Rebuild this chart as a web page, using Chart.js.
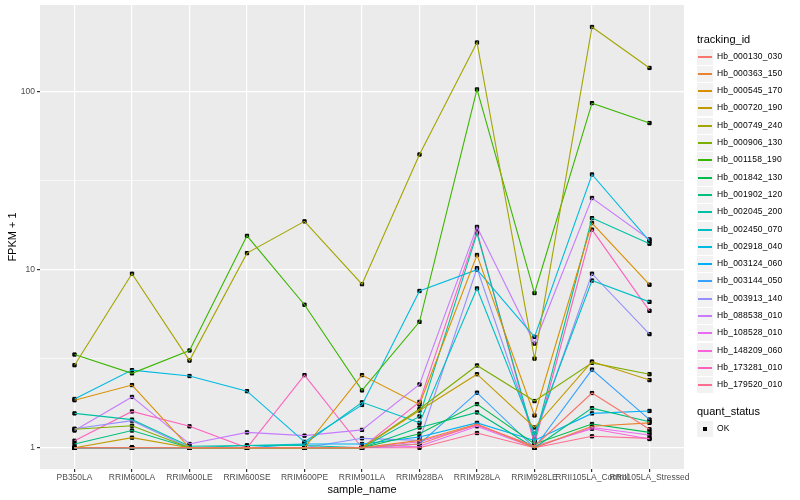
<!DOCTYPE html>
<html>
<head>
<meta charset="utf-8">
<script src="https://cdn.jsdelivr.net/npm/chart.js@4"></script>
<style>
  body { margin: 0; background: #fff; font-family: "Liberation Sans", Arial, sans-serif; }
  #wrap { position: relative; width: 800px; height: 500px; }
  #legend { position: absolute; left: 697px; top: 0; width: 103px; color: #000; }
  .ltitle { position: absolute; left: 0; font-size: 11px; white-space: nowrap; }
  .lrow { position: absolute; left: 0; height: 16px; }
  .lkey { position: absolute; left: 0; top: 0; width: 16px; height: 16px; background: #F2F2F2; }
  .lkey i { position: absolute; left: 1px; right: 1px; top: 7px; height: 1.6px; }
  .lkey b { position: absolute; left: 6px; top: 6px; width: 4px; height: 4px; background: #000; }
  .ltext { position: absolute; left: 20px; top: 2px; font-size: 8.5px; white-space: nowrap; letter-spacing: 0.2px; }
</style>
</head>
<body>
<div id="wrap">
  <canvas id="chart" width="800" height="500"></canvas>
  <div id="legend"></div>
</div>
<script>
// categories on the x axis
const categories = ['PB350LA', 'RRIM600LA', 'RRIM600LE', 'RRIM600SE', 'RRIM600PE', 'RRIM901LA',
                    'RRIM928BA', 'RRIM928LA', 'RRIM928LE', 'RRII105LA_Control', 'RRII105LA_Stressed'];

// FPKM + 1 per tracking id
const hb000130_030 = [1.0, 1.0, 1.0, 1.0, 1.0, 1.0, 1.05, 1.35, 1.02, 2.03, 1.27];
const hb000363_150 = [1.0, 1.0, 1.0, 1.0, 1.0, 1.0, 1.1, 1.36, 1.0, 1.32, 1.38];
const hb000545_170 = [1.85, 2.25, 1.0, 1.0, 1.0, 2.56, 1.75, 12.1, 1.52, 18.3, 8.24];
const hb000720_190 = [1.0, 1.14, 1.0, 1.0, 1.0, 1.0, 1.62, 2.59, 1.3, 3.05, 2.4];
const hb000749_240 = [2.91, 9.5, 3.09, 12.4, 18.7, 8.3, 44.4, 189, 3.17, 231, 136];
const hb000906_130 = [1.27, 1.33, 1.0, 1.0, 1.0, 1.0, 1.65, 2.9, 1.83, 3.0, 2.59];
const hb001158_190 = [3.34, 2.62, 3.52, 15.5, 6.36, 2.1, 5.1, 103, 7.4, 86.3, 66.7];
const hb001842_130 = [1.0, 1.0, 1.0, 1.0, 1.0, 1.0, 1.2, 1.76, 1.05, 1.36, 1.22];
const hb001902_120 = [1.05, 1.25, 1.0, 1.0, 1.0, 1.0, 1.3, 1.58, 1.0, 1.67, 1.4];
const hb002045_200 = [1.56, 1.44, 1.02, 1.03, 1.03, 1.0, 1.5, 16.0, 1.1, 19.5, 14.0];
const hb002450_070 = [1.0, 1.0, 1.0, 1.03, 1.05, 1.8, 1.38, 7.85, 1.2, 8.7, 6.6];
const hb002918_040 = [1.88, 2.73, 2.53, 2.08, 1.08, 1.74, 7.6, 10.0, 4.2, 34.3, 14.5];
const hb003124_060 = [1.0, 1.0, 1.0, 1.0, 1.05, 1.05, 1.15, 1.38, 1.1, 1.56, 1.61];
const hb003144_050 = [1.0, 1.0, 1.0, 1.0, 1.0, 1.0, 1.05, 2.04, 1.0, 2.75, 1.44];
const hb003913_140 = [1.28, 1.42, 1.0, 1.0, 1.0, 1.13, 1.1, 10.2, 1.15, 9.5, 4.35];
const hb088538_010 = [1.25, 1.93, 1.05, 1.22, 1.17, 1.26, 2.27, 17.4, 3.85, 25.3, 14.8];
const hb108528_010 = [1.0, 1.0, 1.0, 1.0, 1.0, 1.0, 1.02, 1.32, 1.0, 1.3, 1.18];
const hb148209_060 = [1.0, 1.0, 1.0, 1.0, 1.0, 1.0, 1.08, 1.34, 1.02, 1.28, 1.12];
const hb173281_010 = [1.095, 1.6, 1.32, 1.0, 2.56, 1.0, 1.81, 16.5, 1.05, 16.8, 5.88];
const hb179520_010 = [1.0, 1.0, 1.0, 1.0, 1.0, 1.0, 1.0, 1.21, 1.0, 1.16, 1.13];

const trackingIds = ['Hb_000130_030', 'Hb_000363_150', 'Hb_000545_170', 'Hb_000720_190', 'Hb_000749_240',
                     'Hb_000906_130', 'Hb_001158_190', 'Hb_001842_130', 'Hb_001902_120', 'Hb_002045_200',
                     'Hb_002450_070', 'Hb_002918_040', 'Hb_003124_060', 'Hb_003144_050', 'Hb_003913_140',
                     'Hb_088538_010', 'Hb_108528_010', 'Hb_148209_060', 'Hb_173281_010', 'Hb_179520_010'];
const seriesValues = [hb000130_030, hb000363_150, hb000545_170, hb000720_190, hb000749_240,
                      hb000906_130, hb001158_190, hb001842_130, hb001902_120, hb002045_200,
                      hb002450_070, hb002918_040, hb003124_060, hb003144_050, hb003913_140,
                      hb088538_010, hb108528_010, hb148209_060, hb173281_010, hb179520_010];

const yTicks = [1, 10, 100];
const yMinor = [Math.sqrt(10), Math.sqrt(1000)];

// ggplot default hue palette for 20 levels
const palette = ['#F8766D', '#EA8331', '#D89000', '#C09B00', '#A3A500', '#7CAE00', '#39B600', '#00BB4E',
                 '#00BF7D', '#00C1A3', '#00BFC4', '#00BAE0', '#00B0F6', '#35A2FF', '#9590FF', '#C77CFF',
                 '#E76BF3', '#FA62DB', '#FF62BC', '#FF6C91'];

const lineSets = trackingIds.map((id, k) => ({
  label: id,
  data: seriesValues[k].map((v, i) => ({ x: i, y: v })),
  borderColor: palette[k],
  backgroundColor: palette[k],
  borderWidth: 1.1,
  pointRadius: 0,
  fill: false,
  tension: 0
}));

const pointSet = {
  label: 'OK',
  data: seriesValues.flatMap(vals => vals.map((v, i) => ({ x: i, y: v }))),
  showLine: false,
  pointStyle: 'rect',
  pointRadius: 2.3,
  pointBackgroundColor: '#000',
  pointBorderColor: '#000',
  pointBorderWidth: 1
};

const panelBg = {
  id: 'panelBg',
  beforeDraw(chart) {
    const a = chart.chartArea, ctx = chart.ctx;
    ctx.save();
    ctx.fillStyle = '#EBEBEB';
    ctx.fillRect(a.left, a.top, a.right - a.left, a.bottom - a.top);
    ctx.restore();
  }
};

const tickFont = { family: '"Liberation Sans", Arial, sans-serif', size: 8.5 };
const titleFont = { family: '"Liberation Sans", Arial, sans-serif', size: 11 };

new Chart(document.getElementById('chart').getContext('2d'), {
  type: 'line',
  data: { datasets: lineSets.concat([pointSet]) },
  plugins: [panelBg],
  options: {
    responsive: false,
    animation: false,
    layout: { padding: { left: 0, right: 116, top: 5, bottom: 0 } },
    plugins: { legend: { display: false }, tooltip: { enabled: false } },
    scales: {
      x: {
        type: 'linear',
        min: -0.6,
        max: 10.6,
        afterBuildTicks(scale) { scale.ticks = categories.map((c, i) => ({ value: i })); },
        afterFit(scale) { scale.height = 31; scale.paddingLeft = 0; scale.paddingRight = 0; },
        ticks: {
          callback: (v) => categories[v],
          color: '#4D4D4D',
          font: tickFont,
          padding: 1,
          maxRotation: 0,
          autoSkip: false
        },
        grid: { color: '#FFFFFF', lineWidth: 1.2, tickColor: '#333333', tickLength: 3 },
        border: { display: false },
        title: { display: true, text: 'sample_name', color: '#000', font: titleFont, padding: { top: 0, bottom: 3 } }
      },
      y: {
        type: 'logarithmic',
        min: 0.76,
        max: 307,
        afterBuildTicks(scale) {
          scale.ticks = yTicks.concat(yMinor).sort((a, b) => a - b).map(v => ({ value: v }));
        },
        afterFit(scale) { scale.width = 40; scale.paddingTop = 0; scale.paddingBottom = 0; },
        ticks: {
          callback: (v) => (yTicks.includes(v) ? String(v) : ''),
          color: '#4D4D4D',
          font: tickFont,
          padding: 2
        },
        grid: {
          color: '#FFFFFF',
          lineWidth: (c) => (c.tick && yTicks.includes(c.tick.value) ? 1.2 : 0.6),
          tickColor: (c) => (c.tick && yTicks.includes(c.tick.value) ? '#333333' : 'rgba(0,0,0,0)'),
          tickLength: 3
        },
        border: { display: false },
        title: { display: true, text: 'FPKM + 1', color: '#000', font: titleFont, padding: { top: 6, bottom: 0 } }
      }
    }
  }
});

// legend drawn as html to the right of the panel
const legend = document.getElementById('legend');
let html = '<div class="ltitle" style="top:33px">tracking_id</div>';
trackingIds.forEach((id, k) => {
  const top = Math.round(48.5 + k * 17.3);
  html += '<div class="lrow" style="top:' + top + 'px"><div class="lkey"><i style="background:' + palette[k] +
          '"></i></div><div class="ltext">' + id + '</div></div>';
});
html += '<div class="ltitle" style="top:405px">quant_status</div>';
html += '<div class="lrow" style="top:421px"><div class="lkey"><b></b></div><div class="ltext">OK</div></div>';
legend.innerHTML = html;
</script>
</body>
</html>
